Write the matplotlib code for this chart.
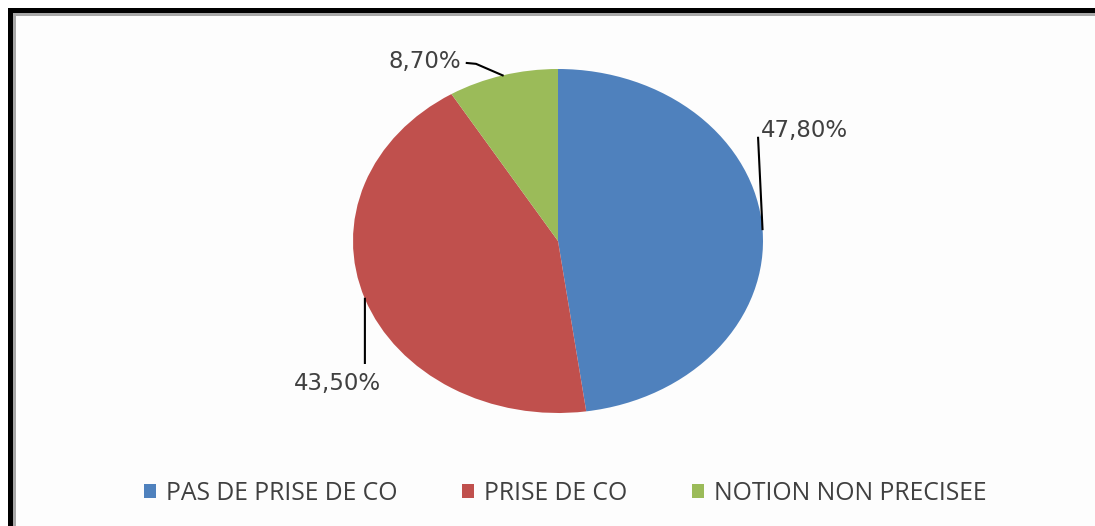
import matplotlib
matplotlib.use('Agg')
import numpy as np
import matplotlib.pyplot as plt
from matplotlib.patches import Patch, Rectangle

categories = ['PAS DE PRISE DE CO', 'PRISE DE CO', 'NOTION NON PRECISEE']
values = [47.8, 43.5, 8.7]
labels = ['47,80%', '43,50%', '8,70%']
colors = ['#4F81BD', '#C0504D', '#9BBB59']

W, H = 1095, 526
fig = plt.figure(figsize=(W/100, H/100), dpi=100)
fig.patch.set_facecolor('white')

# frame (cropped on the right and bottom)
def rect(x, y, w, h, c):
    fig.add_artist(Rectangle((x, y), w, h, transform=fig.transFigure,
                             facecolor=c, edgecolor='none', zorder=-10))

rect(13/W, 0, 1, 1 - 16/H, '#fdfdfd')
rect(8/W, 0, 5/W, 1 - 8/H, 'black')
rect(8/W, 1 - 13/H, 1, 5/H, 'black')
rect(13/W, 0, 3/W, 1 - 13/H, '#a8a8a8')
rect(13/W, 1 - 16/H, 1, 3/H, '#a8a8a8')

# pie axes: ellipse centre (558,241), rx 205, ry 172
cx, cy, rx, ry = 558, 241, 205, 172
ax = fig.add_axes([(cx - rx)/W, 1 - (cy + ry)/H, 2*rx/W, 2*ry/H])
wedges, _ = ax.pie(values, colors=colors, startangle=90, counterclock=False,
                   wedgeprops=dict(linewidth=0))
ax.set_aspect('auto')
ax.set_xlim(-1, 1)
ax.set_ylim(-1, 1)
ax.axis('off')

# label layout: (leader path after the wedge point, text position)
leaders = [
    [(0.976, 0.60)],
    [(-0.942, -0.709)],
    [(-0.40, 1.03), (-0.445, 1.035)],
]
text_pos = [(0.99, 0.645), (-1.078, -0.83), (-0.649, 1.045)]
for w, lab, path, tp in zip(wedges, labels, leaders, text_pos):
    mid = np.deg2rad((w.theta1 + w.theta2) / 2)
    pts = [(np.cos(mid), np.sin(mid))] + path
    xs, ys = zip(*pts)
    ax.plot(xs, ys, color='black', lw=1.5, clip_on=False)
    ax.text(tp[0], tp[1], lab, ha='left' if tp[0] > 0 else 'center',
            va='center', fontsize=16.5, color='#404040', family='DejaVu Sans',
            clip_on=False)

handles = [Patch(facecolor=c, edgecolor='none') for c in colors]
fig.legend(handles, categories, loc='center', bbox_to_anchor=(565/W, 1 - 493/H),
           ncol=3, frameon=False, prop={'family': 'Open Sans', 'size': 17.8},
           labelcolor='#404040', handlelength=0.5, handleheight=0.5,
           handletextpad=0.4, columnspacing=2.6)

fig.savefig('out.png', dpi=100)
